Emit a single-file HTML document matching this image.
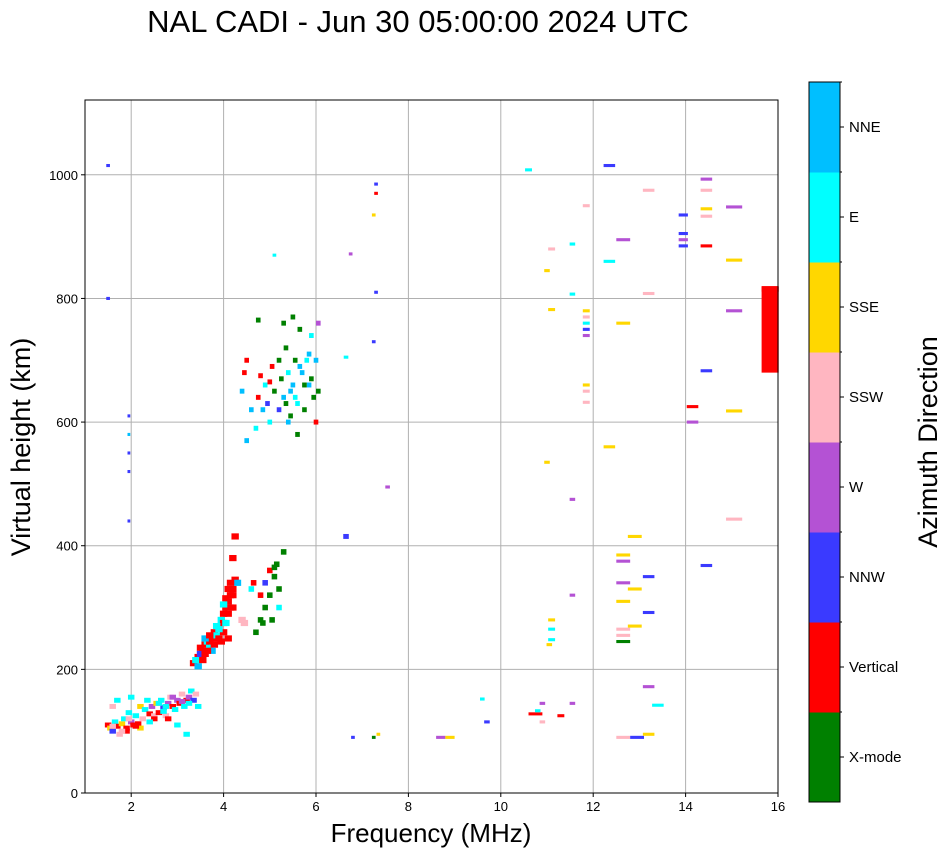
<!DOCTYPE html>
<html><head><meta charset="utf-8">
<style>
body{margin:0;background:#fff;font-family:"Liberation Sans",sans-serif;}
svg text{font-family:"Liberation Sans",sans-serif;}
</style></head>
<body>
<svg width="951" height="856" viewBox="0 0 951 856" id="chart">
<text x="418" y="32" font-size="31" text-anchor="middle">NAL CADI - Jun 30 05:00:00 2024 UTC</text>
<g id="grid"></g>
<g id="marks"></g>
<rect x="85" y="100" width="693" height="693" fill="none" stroke="#000" stroke-width="1"/>
<g id="axes"></g>
<text x="431" y="842" font-size="26" text-anchor="middle">Frequency (MHz)</text>
<text transform="translate(30,447) rotate(-90)" font-size="27" text-anchor="middle">Virtual height (km)</text>
<g id="cbar"></g>
<text transform="translate(937,442) rotate(-90)" font-size="27" text-anchor="middle">Azimuth Direction</text>
</svg>
<script>
const dirNames=["X-mode","Vertical","NNW","W","SSW","SSE","E","NNE"];
const dirColors=["#008000","#ff0000","#3a3aff","#b452d4","#ffb6c1","#ffd700","#00ffff","#00bfff"];
const xTicks=[2,4,6,8,10,12,14,16];
const yTicks=[0,200,400,600,800,1000];
// [freq MHz, height km, direction index, freq span MHz, height span km]
const lowBand=[[1.5,110,1],[1.55,105,5],[1.6,100,2],[1.65,115,6],[1.7,108,1],[1.75,95,4],[1.8,112,5],[1.85,120,6],[1.9,105,1],[1.95,130,6],[2.0,115,3],[2.05,110,1],[2.1,125,6],[2.15,112,1],[2.2,140,5],[2.25,120,4],[2.3,135,6],[2.35,150,6],[2.4,128,1],[2.45,140,3],[2.5,125,4],[2.55,145,5],[2.6,130,1],[2.65,150,6],[2.7,138,2],[2.75,125,4],[2.8,145,3],[2.85,155,4],[2.9,140,1],[2.95,135,6],[3.0,150,3],[3.05,145,1],[3.1,160,4],[3.15,140,6],[3.2,150,1],[3.25,155,3],[3.3,165,6],[3.35,150,2],[3.4,160,4],[3.45,140,6],[1.7,150,6],[1.9,100,1],[2.0,155,6],[1.6,140,4],[2.5,120,1],[2.2,105,5],[3.2,95,6],[3.0,110,6],[2.8,120,1],[1.8,100,4],[2.6,145,6],[2.7,132,6],[3.1,148,3],[1.6,108,4],[2.4,115,6],[2.75,140,6],[2.9,155,3],[3.25,145,6],[2.1,108,1],[1.95,120,4]];
const eLayer=[[3.35,210,1],[3.45,220,1],[3.55,230,1],[3.6,240,1],[3.7,235,6],[3.75,250,1],[3.8,260,1],[3.85,255,6],[3.9,270,1],[3.95,280,6],[4.0,290,1],[4.05,300,1],[4.1,310,1],[4.15,320,1],[4.2,330,1],[4.25,345,1],[3.4,215,6],[3.5,225,2],[3.65,245,6],[4.0,260,1],[4.1,250,1],[4.2,300,1],[4.25,415,1],[4.2,380,1],[4.3,340,7],[4.4,280,4],[4.45,275,4],[3.5,235,1],[3.6,225,1],[3.7,245,1],[3.8,240,1],[3.9,250,1],[4.0,275,1],[4.1,290,1],[4.15,300,1],[3.9,265,6],[4.05,275,6],[3.45,205,7],[3.75,230,7],[3.6,250,7],[3.7,255,1],[3.85,270,6],[4.1,330,1],[4.2,320,1],[3.95,245,1],[4.05,315,1],[4.15,340,1],[4.0,305,6],[3.55,215,1],[3.65,230,1]];
const greenBand=[[4.7,260,0],[4.8,280,0],[4.9,300,0],[5.0,320,0],[5.05,280,0],[5.1,350,0],[5.15,370,0],[5.2,330,0],[5.3,390,0],[4.9,340,2],[5.0,360,1],[4.8,320,1],[5.2,300,6],[4.6,330,6],[4.65,340,1],[4.85,275,0],[5.1,365,0]];
const fLayer=[[4.4,650,7],[4.45,680,1],[4.5,700,1],[4.6,620,7],[4.7,590,6],[4.75,640,1],[4.8,675,1],[4.9,660,6],[4.95,630,2],[5.0,600,6],[5.05,690,1],[5.1,650,0],[5.2,700,0],[5.25,670,0],[5.3,640,7],[5.35,720,0],[5.4,680,6],[5.45,610,0],[5.5,660,7],[5.55,700,0],[5.6,630,6],[5.65,750,0],[5.7,680,7],[5.75,620,0],[5.8,700,6],[5.85,660,7],[5.9,740,6],[5.95,640,0],[6.0,700,7],[6.05,760,3],[5.3,760,0],[5.5,770,0],[5.6,580,0],[6.0,600,1],[4.5,570,7],[5.9,670,0],[5.4,600,7],[5.2,620,2],[4.75,765,0],[6.05,650,0],[5.45,650,7],[5.55,640,6],[5.65,690,7],[5.75,660,0],[5.85,710,7],[4.85,620,7],[5.0,665,1],[5.35,630,0]];
const sparse=[[1.5,1015,2,0.08],[1.5,800,2,0.08],[1.95,610,2,0.06],[1.95,580,7,0.06],[1.95,550,2,0.06],[1.95,520,2,0.06],[1.95,440,2,0.06],[5.1,870,6,0.08],[6.75,872,3,0.08],[6.65,705,6,0.1],[6.65,415,2,0.12,8],[7.3,985,2,0.08],[7.3,970,1,0.08],[7.25,935,5,0.08],[7.3,810,2,0.08],[7.25,730,2,0.08],[7.55,495,3,0.1],[6.8,90,2,0.08],[7.25,90,0,0.08],[7.35,95,5,0.08],[8.7,90,3,0.2],[8.9,90,5,0.2],[9.6,152,6,0.1],[9.7,115,2,0.12],[10.6,1008,6,0.15],[10.75,128,1,0.3],[10.8,133,6,0.12],[10.9,145,3,0.12],[10.9,115,4,0.12],[11.0,845,5,0.12],[11.0,535,5,0.12],[11.05,240,5,0.12],[11.1,880,4,0.15],[11.1,782,5,0.15],[11.1,280,5,0.15],[11.1,265,6,0.15],[11.1,248,6,0.15],[11.3,125,1,0.15],[11.55,888,6,0.12],[11.55,807,6,0.12],[11.55,475,3,0.12],[11.55,320,3,0.12],[11.55,145,3,0.12],[11.85,950,4,0.15],[11.85,780,5,0.15],[11.85,770,4,0.15],[11.85,760,6,0.15],[11.85,750,2,0.15],[11.85,740,3,0.15],[11.85,660,5,0.15],[11.85,650,4,0.15],[11.85,632,4,0.15],[12.35,1015,2,0.25],[12.35,860,6,0.25],[12.35,560,5,0.25],[12.65,895,3,0.3],[12.65,760,5,0.3],[12.65,385,5,0.3],[12.65,375,3,0.3],[12.65,340,3,0.3],[12.65,310,5,0.3],[12.65,265,4,0.3],[12.65,255,4,0.3],[12.65,245,0,0.3],[12.65,90,4,0.3],[12.95,90,2,0.3],[12.9,415,5,0.3],[12.9,330,5,0.3],[12.9,270,5,0.3],[13.2,975,4,0.25],[13.2,808,4,0.25],[13.2,350,2,0.25],[13.2,292,2,0.25],[13.2,172,3,0.25],[13.2,95,5,0.25],[13.4,142,6,0.25],[13.95,935,2,0.2],[13.95,905,2,0.2],[13.95,895,3,0.2],[13.95,885,2,0.2],[14.15,625,1,0.25],[14.15,600,3,0.25],[14.45,993,3,0.25],[14.45,975,4,0.25],[14.45,945,5,0.25],[14.45,933,4,0.25],[14.45,885,1,0.25],[14.45,683,2,0.25],[14.45,368,2,0.25],[15.05,948,3,0.35],[15.05,862,5,0.35],[15.05,780,3,0.35],[15.05,618,5,0.35],[15.05,443,4,0.35],[15.83,750,1,0.37,140],[15.83,815,1,0.37,8]];

const NS="http://www.w3.org/2000/svg";
const X0=85,X1=778,Y0=793,Y1=100,FMIN=1,FMAX=16,HMIN=0,HMAX=1121;
function xs(f){return X0+(f-FMIN)/(FMAX-FMIN)*(X1-X0);}
function ys(h){return Y0-(h-HMIN)/(HMAX-HMIN)*(Y0-Y1);}
function mk(tag,attrs,parent){const e=document.createElementNS(NS,tag);for(const k in attrs)e.setAttribute(k,attrs[k]);parent.appendChild(e);return e;}
const grid=document.getElementById('grid'),axes=document.getElementById('axes'),marks=document.getElementById('marks'),cbar=document.getElementById('cbar');
xTicks.forEach(t=>{const x=xs(t);
 const g=mk('line',{x1:x,x2:x,y1:Y1,y2:Y0,stroke:'#b0b0b0','stroke-width':1},grid);
 
 
 mk('line',{x1:x,x2:x,y1:Y0,y2:Y0+4,stroke:'#000'},axes);
 const l=mk('text',{x:x,y:Y0+18,'font-size':13,'text-anchor':'middle'},axes);l.textContent=t;
 
 });
yTicks.forEach(t=>{const y=ys(t);
 const g=mk('line',{x1:X0,x2:X1,y1:y,y2:y,stroke:'#b0b0b0','stroke-width':1},grid);
 
 
 mk('line',{x1:X0-4,x2:X0,y1:y,y2:y,stroke:'#000'},axes);
 const l=mk('text',{x:X0-7,y:y+5,'font-size':13,'text-anchor':'end'},axes);l.textContent=t;
 
 });
function drawGroup(arr,defW,defH){arr.forEach(p=>{const f=p[0],h=p[1],d=p[2],w=p[3]||defW,hs=p[4]||defH;
 const x=xs(f-w/2),x2=xs(f+w/2),y=ys(h+hs/2),y2=ys(h-hs/2);
 const r=mk('rect',{x:x,y:y,width:Math.max(1,x2-x),height:Math.max(1.5,y2-y),fill:dirColors[d]},marks);
 
 });}
drawGroup(lowBand,0.14,8);drawGroup(eLayer,0.16,10);drawGroup(greenBand,0.12,9);drawGroup(fLayer,0.1,8);drawGroup(sparse,0.1,5);
// colorbar
const CX=809,CW=31,CT=82,CB=802,bh=(CB-CT)/dirNames.length;
dirNames.forEach((n,i)=>{const y=CB-(i+1)*bh;
 const r=mk('rect',{x:CX,y:y,width:CW,height:bh+0.5,fill:dirColors[i]},cbar);
 
 
 const yc=y+bh/2;
 mk('line',{x1:CX+CW,x2:CX+CW+4,y1:yc,y2:yc,stroke:'#000'},cbar);
 mk('line',{x1:CX+CW,x2:CX+CW+2,y1:y,y2:y,stroke:'#000'},cbar);
 const l=mk('text',{x:CX+CW+9,y:yc+5,'font-size':15},cbar);l.textContent=n;
 
 });
mk('rect',{x:CX,y:CT,width:CW,height:CB-CT,fill:'none',stroke:'#000'},cbar);
</script>
</body></html>
